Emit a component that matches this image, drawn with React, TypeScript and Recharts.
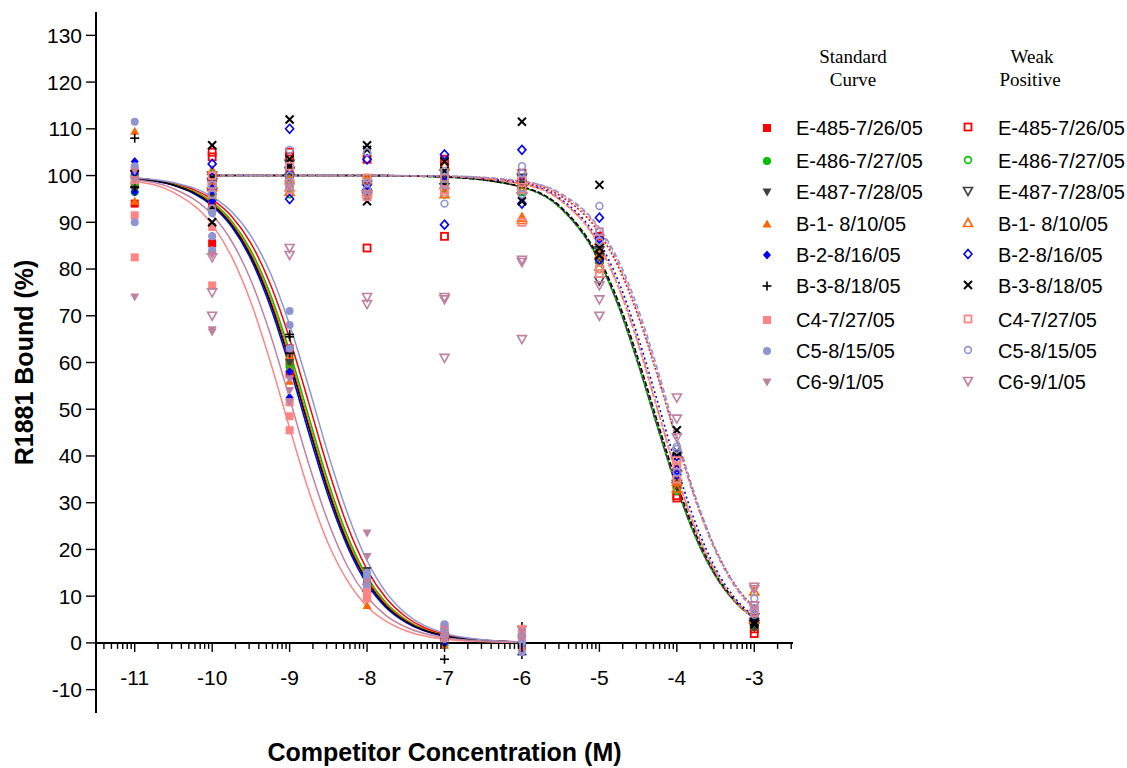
import { ComposedChart, Line, ReferenceLine, Scatter, XAxis, YAxis } from "recharts";

const NAMES = [
  "E-485-7/26/05",
  "E-486-7/27/05",
  "E-487-7/28/05",
  "B-1- 8/10/05",
  "B-2-8/16/05",
  "B-3-8/18/05",
  "C4-7/27/05",
  "C5-8/15/05",
  "C6-9/1/05",
];
const COLORS = ["#ff0000", "#00c000", "#404040", "#ff6600", "#0000ff", "#000000", "#ff8585", "#8f95d3", "#c0809f"];
const STD_SHAPES = ["square", "circle", "tdown", "tup", "diamond", "plus", "square", "circle", "tdown"];
const WEAK_SHAPES = ["square", "circle", "tdown", "tup", "diamond", "cross", "square", "circle", "tdown"];
const WEAK_DASH = ["2 2", "6 3", "6 3", "4 2", "2 3", "5 2", "5 3", "5 3", "4 2 1 2"];
const WEAK_DASH_OFFSET = [0, 0, 4.5, 0, 0, 2, 0, 0, 0];

const X_TICKS = [-11, -10, -9, -8, -7, -6, -5, -4, -3];
const X_DECADES = [-12, -11, -10, -9, -8, -7, -6, -5, -4, -3];
const MINOR_STEPS = [2, 3, 4, 5, 6, 7, 8, 9];
const Y_TICKS = [-10, 0, 10, 20, 30, 40, 50, 60, 70, 80, 90, 100, 110, 120, 130];

const STD_DOSES = [-11, -10, -9, -8, -7, -6];
const WEAK_DOSES = [-10, -9, -8, -7, -6, -5, -4, -3];
const STD_FIT_X = [-11, -10.5, -10, -9.75, -9.5, -9.25, -9, -8.75, -8.5, -8.25, -8, -7.75, -7.5, -7, -6.5, -6];
const WEAK_FIT_X = [-10, -9, -8, -7, -6, -5.5, -5, -4.75, -4.5, -4.25, -4, -3.75, -3.5, -3.25, -3];

// standard curve replicates (% bound), one row per dose in STD_DOSES
const E485_STD = [[94, 100.5, 98], [85.5, 96, 94], [57.5, 63, 60], [10, 12.5, 11.5], [1, 2, 0.5], [0.5, 1.5, -0.5]];
const E486_STD = [[96.5, 100, 98.5], [95, 92.5, 97], [59, 60.5, 61], [12, 13, 14.5], [0.5, 1.5, -0.5], [0, 1, 2]];
const E487_STD = [[100.5, 97, 99], [98, 94, 96], [61, 60, 62.5], [15.5, 13.5, 12], [2.5, 1, 0], [1, -1, 0.5]];
const B1_STD = [[109.5, 94.5, 100], [97.5, 93, 95], [56, 61.5, 58.5], [8, 10.5, 12.5], [-0.5, 1, 2], [0.5, 2, -1]];
const B2_STD = [[103, 96.5, 100.5], [87, 94.5, 92], [63, 58, 52.5], [11.5, 13, 12], [1.5, 0, 3], [-1, 1, 0]];
const B3_STD = [[108, 97.5, 101], [99, 96, 93], [66, 65.5, 62], [11, 14, 12.5], [-3.5, 2, 1], [3.5, -2.5, 0]];
const C4_STD = [[91.5, 82.5, 99], [89, 76.5, 97.5], [48.5, 45.5, 51.5], [9.5, 10.5, 12], [3.5, 2, 1], [3, 2, 1]];
const C5_STD = [[111.5, 90, 102], [84, 92, 87], [71, 68, 63], [15, 14, 12.5], [4, 2.5, 1.5], [-2, 1.5, 0]];
const C6_STD = [[74, 99, 101], [67, 66.5, 83], [56.5, 54, 51.5], [23.5, 18.5, 13], [3, 1.5, 0.5], [2.5, 1, -1.5]];

// weak positive replicates, one row per dose in WEAK_DOSES
const E485_WEAK = [[105, 104, 98], [105, 104, 100], [103.5, 84.5, 99], [103.5, 87, 102], [100.5, 98.5, 97], [87, 83, 82], [31.5, 31, 34], [2, 3, 4.5]];
const E486_WEAK = [[97, 99, 100.5], [97, 99, 96], [98.5, 97, 99.5], [97, 98.5, 96], [96.5, 98, 99], [81.5, 83, 80], [33, 35, 32.5], [4, 5, 3.5]];
const E487_WEAK = [[98.5, 100, 96.5], [101, 99.5, 102.5], [96, 95.5, 98], [99, 100.5, 97.5], [95.5, 97, 99.5], [77.5, 82.5, 84], [34, 33.5, 36], [4, 3.5, 5.5]];
const B1_WEAK = [[101, 98, 97.5], [97.5, 96.5, 99], [96.5, 99, 97.5], [96, 98, 102], [91, 90.5, 97], [83, 80.5, 86], [34.5, 37.5, 33], [11, 6, 5]];
const B2_WEAK = [[102.5, 99.5, 97], [110, 95, 101.5], [103.5, 98, 97], [104.5, 89.5, 100], [105.5, 94, 99], [91, 86.5, 82], [37, 36, 40], [6, 5, 7]];
const B3_WEAK = [[106.5, 99.5, 90], [112, 103.5, 102], [106.5, 105.5, 94.5], [101, 98, 103], [111.5, 94.5, 98], [98, 84.5, 83], [45.5, 41, 40], [4.5, 5.5, 4]];
const C4_WEAK = [[98, 96, 100], [98.5, 97, 102], [99.5, 96, 95.5], [99.5, 97, 96.5], [90, 97, 99], [79, 80, 88], [38, 35, 39], [7, 8, 6.5]];
const C5_WEAK = [[93, 96, 98], [105.5, 97.5, 100], [105, 98.5, 97], [94, 98, 101], [102, 100.5, 96], [93.5, 88, 86], [42, 36.5, 41.5], [9.5, 7.5, 6]];
const C6_WEAK = [[82.5, 75, 70], [84.5, 83, 98], [74, 72.5, 96], [74, 73.5, 61], [82, 81.5, 65], [76.5, 73.5, 70], [52.5, 48, 44], [12, 11.5, 8]];

// fitted curves at STD_FIT_X
const E485_STD_FIT = [99.5, 98.3, 94.9, 91.3, 85.5, 76.8, 65.1, 51.2, 37.1, 24.9, 15.7, 9.5, 5.6, 1.8, 0.6, 0.2];
const E486_STD_FIT = [99.4, 98.1, 94.3, 90.3, 84.0, 74.7, 62.4, 48.3, 34.4, 22.8, 14.2, 8.5, 5.0, 1.6, 0.5, 0.2];
const E487_STD_FIT = [99.4, 98.0, 93.9, 89.7, 83.0, 73.4, 60.8, 46.6, 32.9, 21.6, 13.4, 8.0, 4.7, 1.5, 0.5, 0.2];
const B1_STD_FIT = [99.4, 98.0, 94.1, 89.9, 83.4, 73.8, 61.3, 47.1, 33.4, 22.0, 13.7, 8.2, 4.8, 1.6, 0.5, 0.2];
const B2_STD_FIT = [99.3, 97.9, 93.5, 89.1, 82.1, 72.0, 59.1, 44.8, 31.4, 20.5, 12.6, 7.5, 4.4, 1.4, 0.5, 0.1];
const B3_STD_FIT = [99.3, 98.0, 93.8, 89.5, 82.7, 72.9, 60.2, 46.0, 32.4, 21.2, 13.2, 7.8, 4.6, 1.5, 0.5, 0.2];
const C4_STD_FIT = [98.8, 96.4, 89.5, 82.7, 72.9, 60.2, 46.0, 32.4, 21.2, 13.2, 7.8, 4.6, 2.6, 0.8, 0.3, 0.1];
const C5_STD_FIT = [99.5, 98.5, 95.5, 92.3, 87.1, 79.2, 68.1, 54.6, 40.3, 27.6, 17.6, 10.7, 6.3, 2.1, 0.7, 0.2];
const C6_STD_FIT = [99.1, 97.2, 91.6, 86.0, 77.6, 66.1, 52.3, 38.1, 25.8, 16.3, 9.9, 5.8, 3.4, 1.1, 0.4, 0.1];

// at WEAK_FIT_X
const E485_WEAK_FIT = [100, 100, 100, 99.8, 98.5, 95.6, 87.7, 80.3, 70.0, 57.2, 43.4, 30.4, 20.0, 12.5, 7.6];
const E486_WEAK_FIT = [100, 100, 100, 99.7, 97.5, 93.0, 81.6, 71.9, 59.7, 46.2, 33.2, 22.3, 14.3, 8.8, 5.3];
const E487_WEAK_FIT = [100, 100, 100, 99.7, 97.5, 93.0, 81.6, 71.9, 59.7, 46.2, 33.2, 22.3, 14.3, 8.8, 5.3];
const B1_WEAK_FIT = [100, 100, 100, 99.8, 98.2, 94.7, 85.0, 76.0, 64.1, 50.0, 36.0, 24.0, 15.1, 9.1, 5.3];
const B2_WEAK_FIT = [100, 100, 100, 99.8, 98.3, 95.0, 85.8, 77.2, 65.4, 51.7, 37.6, 25.3, 15.9, 9.6, 5.7];
const B3_WEAK_FIT = [100, 100, 100, 99.7, 97.6, 93.3, 82.2, 72.8, 60.8, 47.3, 34.2, 23.1, 14.8, 9.1, 5.5];
const C4_WEAK_FIT = [100, 100, 100, 99.8, 98.2, 94.7, 85.0, 76.0, 64.1, 50.0, 36.0, 24.0, 15.1, 9.1, 5.3];
const C5_WEAK_FIT = [100, 100, 100, 99.9, 98.8, 96.2, 88.8, 81.7, 71.5, 58.6, 44.3, 30.9, 20.1, 12.4, 7.4];
const C6_WEAK_FIT = [100, 100, 100, 99.9, 98.8, 96.0, 88.4, 81.0, 70.5, 57.5, 43.2, 30.0, 19.5, 12.0, 7.1];

const STD_REPS = [E485_STD, E486_STD, E487_STD, B1_STD, B2_STD, B3_STD, C4_STD, C5_STD, C6_STD];
const WEAK_REPS = [E485_WEAK, E486_WEAK, E487_WEAK, B1_WEAK, B2_WEAK, B3_WEAK, C4_WEAK, C5_WEAK, C6_WEAK];
const STD_FITS = [E485_STD_FIT, E486_STD_FIT, E487_STD_FIT, B1_STD_FIT, B2_STD_FIT, B3_STD_FIT, C4_STD_FIT, C5_STD_FIT, C6_STD_FIT];
const WEAK_FITS = [E485_WEAK_FIT, E486_WEAK_FIT, E487_WEAK_FIT, B1_WEAK_FIT, B2_WEAK_FIT, B3_WEAK_FIT, C4_WEAK_FIT, C5_WEAK_FIT, C6_WEAK_FIT];

const W = 1127;
const H = 768;
const MARGIN = { top: 12, right: 334, left: 0, bottom: 0 };
const X_AXIS_H = 55;
const Y_DOMAIN = [-15, 135];
const PLOT_H = H - MARGIN.top - MARGIN.bottom - X_AXIS_H;
const Y_ZERO = MARGIN.top + (Y_DOMAIN[1] / (Y_DOMAIN[1] - Y_DOMAIN[0])) * PLOT_H;

const SANS = "'Liberation Sans', Arial, sans-serif";
const SERIF = "'Liberation Serif', 'Times New Roman', serif";

const minorTicks = X_DECADES.flatMap((d) => MINOR_STEPS.map((k) => d + Math.log10(k))).filter(
  (v) => v > -11.5 && v < -2.5
);
const allXTicks = [...X_TICKS, ...minorTicks].sort((a, b) => a - b);

const toReps = (doses: number[], reps: number[][]) =>
  doses.flatMap((x, i) => reps[i].map((y) => ({ x, y })));
const toFit = (xs: number[], ys: number[]) => xs.map((x, i) => ({ x, y: ys[i] }));

function Marker({ cx, cy, kind, color, open }: { cx: number; cy: number; kind: string; color: string; open?: boolean }) {
  const fill = open ? "none" : color;
  const sw = open ? 1.6 : 0;
  switch (kind) {
    case "square":
      return open ? (
        <rect x={cx - 3.5} y={cy - 3.5} width={7} height={7} fill="none" stroke={color} strokeWidth={1.8} />
      ) : (
        <rect x={cx - 4} y={cy - 4} width={8} height={8} fill={color} />
      );
    case "circle":
      return <circle cx={cx} cy={cy} r={open ? 3.4 : 4} fill={fill} stroke={open ? color : "none"} strokeWidth={sw} />;
    case "tdown":
      return (
        <polygon
          points={`${cx - 4.5},${cy - 3.5} ${cx + 4.5},${cy - 3.5} ${cx},${cy + 4.5}`}
          fill={fill}
          stroke={open ? color : "none"}
          strokeWidth={sw}
        />
      );
    case "tup":
      return (
        <polygon
          points={`${cx - 4.5},${cy + 3.5} ${cx + 4.5},${cy + 3.5} ${cx},${cy - 4.5}`}
          fill={fill}
          stroke={open ? color : "none"}
          strokeWidth={sw}
        />
      );
    case "diamond":
      return (
        <polygon
          points={`${cx},${cy - 4.5} ${cx + 4},${cy} ${cx},${cy + 4.5} ${cx - 4},${cy}`}
          fill={fill}
          stroke={open ? color : "none"}
          strokeWidth={sw}
        />
      );
    case "plus":
      return (
        <g stroke={color} strokeWidth={1.6}>
          <line x1={cx - 4.5} y1={cy} x2={cx + 4.5} y2={cy} />
          <line x1={cx} y1={cy - 4.5} x2={cx} y2={cy + 4.5} />
        </g>
      );
    default:
      return (
        <g stroke={color} strokeWidth={2}>
          <line x1={cx - 4} y1={cy - 4} x2={cx + 4} y2={cy + 4} />
          <line x1={cx - 4} y1={cy + 4} x2={cx + 4} y2={cy - 4} />
        </g>
      );
  }
}

const XTick = (p: any) => {
  const v = p.payload.value;
  const major = X_TICKS.includes(v);
  return (
    <g>
      <line x1={p.x} y1={Y_ZERO} x2={p.x} y2={Y_ZERO + (major ? 9 : 6)} stroke="#000" strokeWidth={1.4} />
      {major && (
        <text x={p.x} y={Y_ZERO + 42} textAnchor="middle" fontSize={21} fontFamily={SANS} fill="#000">
          {v}
        </text>
      )}
    </g>
  );
};

const LEGEND_ROWS = [128, 161, 192, 224, 255, 286, 320, 351, 382];

function LegendOverlay() {
  return (
    <svg width={W} height={H} style={{ position: "absolute", left: 0, top: 0, pointerEvents: "none" }}>
      <g fontFamily={SERIF} fontSize={19} fill="#000" textAnchor="middle">
        <text x={853} y={63}>Standard</text>
        <text x={853} y={86}>Curve</text>
        <text x={1032} y={63}>Weak</text>
        <text x={1030} y={86}>Positive</text>
      </g>
      {NAMES.map((n, i) => (
        <g key={n} fontFamily={SANS} fontSize={20} fill="#000">
          <Marker cx={767} cy={LEGEND_ROWS[i]} kind={STD_SHAPES[i]} color={COLORS[i]} />
          <text x={796} y={LEGEND_ROWS[i] + 7}>{n}</text>
          <Marker cx={968} cy={LEGEND_ROWS[i] - 1} kind={WEAK_SHAPES[i]} color={COLORS[i]} open />
          <text x={998} y={LEGEND_ROWS[i] + 7}>{n}</text>
        </g>
      ))}
    </svg>
  );
}

export default function App() {
  return (
    <div style={{ position: "absolute", left: 0, top: 0, width: W, height: H, background: "#fff" }}>
      <ComposedChart width={W} height={H} margin={MARGIN}>
        <XAxis
          dataKey="x"
          type="number"
          domain={[-11.5, -2.5]}
          ticks={allXTicks}
          interval={0}
          height={X_AXIS_H}
          axisLine={false}
          tickLine={false}
          tick={XTick}
          allowDataOverflow
          label={{
            value: "Competitor Concentration (M)",
            position: "insideBottom",
            offset: 7,
            fill: "#000",
            fontSize: 25,
            fontWeight: "bold",
            fontFamily: SANS,
          }}
        />
        <YAxis
          dataKey="y"
          type="number"
          domain={Y_DOMAIN}
          ticks={Y_TICKS}
          interval={0}
          width={96}
          allowDataOverflow
          axisLine={{ stroke: "#000", strokeWidth: 2 }}
          tickLine={{ stroke: "#000", strokeWidth: 1.4 }}
          tickSize={10}
          tickMargin={4}
          tick={{ fill: "#000", fontSize: 21, fontFamily: SANS }}
          label={{
            value: "R1881 Bound (%)",
            angle: -90,
            position: "insideLeft",
            offset: 24,
            fill: "#000",
            fontSize: 25,
            fontWeight: "bold",
            fontFamily: SANS,
            style: { textAnchor: "middle" },
          }}
        />
        <ReferenceLine y={0} stroke="#000" strokeWidth={2} />
        {STD_FITS.map((f, i) => (
          <Line
            key={`sf${i}`}
            data={toFit(STD_FIT_X, f)}
            dataKey="y"
            type="monotone"
            stroke={COLORS[i]}
            strokeWidth={1.5}
            dot={false}
            isAnimationActive={false}
          />
        ))}
        {WEAK_FITS.map((f, i) => (
          <Line
            key={`wf${i}`}
            data={toFit(WEAK_FIT_X, f)}
            dataKey="y"
            type="monotone"
            stroke={COLORS[i]}
            strokeWidth={1.6}
            strokeDasharray={WEAK_DASH[i]}
            strokeDashoffset={WEAK_DASH_OFFSET[i]}
            dot={false}
            isAnimationActive={false}
          />
        ))}
        {STD_REPS.map((r, i) => (
          <Scatter
            key={`s${i}`}
            name={NAMES[i]}
            data={toReps(STD_DOSES, r)}
            dataKey="y"
            isAnimationActive={false}
            shape={(p: any) => <Marker cx={p.cx} cy={p.cy} kind={STD_SHAPES[i]} color={COLORS[i]} />}
          />
        ))}
        {WEAK_REPS.map((r, i) => (
          <Scatter
            key={`w${i}`}
            name={NAMES[i]}
            data={toReps(WEAK_DOSES, r)}
            dataKey="y"
            isAnimationActive={false}
            shape={(p: any) => <Marker cx={p.cx} cy={p.cy} kind={WEAK_SHAPES[i]} color={COLORS[i]} open />}
          />
        ))}
      </ComposedChart>
      <LegendOverlay />
    </div>
  );
}
